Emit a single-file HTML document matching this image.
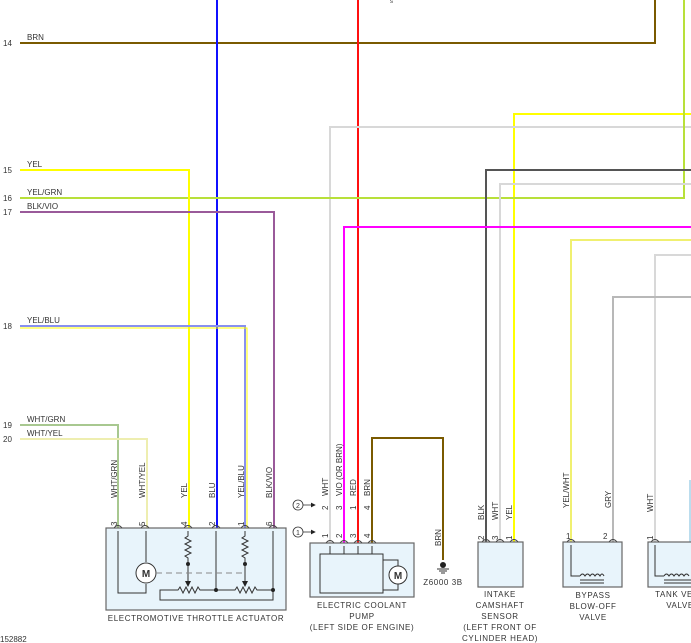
<!DOCTYPE html>
<html><head><meta charset="utf-8"><style>
html,body{margin:0;padding:0;background:#fff}
svg{display:block}
text{font-family:"Liberation Sans",sans-serif;fill:#333}
</style></head><body>
<svg width="691" height="643" viewBox="0 0 691 643" xmlns="http://www.w3.org/2000/svg">
<defs>
<marker id="ah" markerWidth="6" markerHeight="6" refX="5" refY="3" orient="auto"><path d="M0,0 L6,3 L0,6z" fill="#222"/></marker>
</defs>
<g fill="none" stroke-width="2">
<polyline points="20,43 655,43 655,0" stroke="#7a5a00"/>
<line x1="217" y1="0" x2="217" y2="528" stroke="#1010ff"/>
<line x1="358" y1="0" x2="358" y2="543" stroke="#ff1010"/>
<polyline points="691,114 514,114 514,543" stroke="#ffff00"/>
<polyline points="691,127 330,127 330,543" stroke="#d8d8d8"/>
<polyline points="684,0 684,198 20,198" stroke="#b8e03a"/>
<polyline points="20,170 189,170 189,528" stroke="#ffff00"/>
<polyline points="20,212 274,212 274,528" stroke="#9a5a9a"/>
<polyline points="691,170 486,170 486,543" stroke="#555"/>
<polyline points="691,184 500,184 500,543" stroke="#d8d8d8"/>
<polyline points="691,227 344,227 344,543" stroke="#ff00ff"/>
<polyline points="691,240 571,240 571,543" stroke="#f0f070"/>
<polyline points="691,255 655,255 655,543" stroke="#d8d8d8"/>
<polyline points="691,297 613,297 613,543" stroke="#b8b8b8"/>
<polyline points="20,326 245,326 245,528" stroke="#8890f0"/>
<polyline points="20,425 118,425 118,528" stroke="#a8c890"/>
<polyline points="20,439 147,439 147,528" stroke="#eeeeb0"/>
<polyline points="372,543 372,438 443,438 443,560" stroke="#7a5a00"/>
<line x1="690" y1="480" x2="690" y2="543" stroke="#bde"/>
</g>
<polyline points="20,328 247,328 247,528" fill="none" stroke="#ffff00" stroke-width="1"/>
<g font-size="8">
<text x="3" y="46">14</text><text x="27" y="40">BRN</text>
<text x="3" y="173">15</text><text x="27" y="167">YEL</text>
<text x="3" y="201">16</text><text x="27" y="195">YEL/GRN</text>
<text x="3" y="215">17</text><text x="27" y="209">BLK/VIO</text>
<text x="3" y="329">18</text><text x="27" y="323">YEL/BLU</text>
<text x="3" y="428">19</text><text x="27" y="422">WHT/GRN</text>
<text x="3" y="442">20</text><text x="27" y="436">WHT/YEL</text>
<text x="0" y="642" fill="#666">152882</text>
</g>
<g font-size="8">
<text transform="translate(117,498) rotate(-90)">WHT/GRN</text>
<text transform="translate(145,498) rotate(-90)">WHT/YEL</text>
<text transform="translate(187,498) rotate(-90)">YEL</text>
<text transform="translate(215,498) rotate(-90)">BLU</text>
<text transform="translate(244,498) rotate(-90)">YEL/BLU</text>
<text transform="translate(272,498) rotate(-90)">BLK/VIO</text>
<text transform="translate(328,496) rotate(-90)">WHT</text>
<text transform="translate(342,496) rotate(-90)">VIO  (OR BRN)</text>
<text transform="translate(356,496) rotate(-90)">RED</text>
<text transform="translate(370,496) rotate(-90)">BRN</text>
<text transform="translate(441,546) rotate(-90)">BRN</text>
<text transform="translate(484,520) rotate(-90)">BLK</text>
<text transform="translate(498,520) rotate(-90)">WHT</text>
<text transform="translate(512,520) rotate(-90)">YEL</text>
<text transform="translate(569,508) rotate(-90)">YEL/WHT</text>
<text transform="translate(611,508) rotate(-90)">GRY</text>
<text transform="translate(653,512) rotate(-90)">WHT</text>
<text transform="translate(117,526) rotate(-90)">3</text>
<text transform="translate(145,526) rotate(-90)">5</text>
<text transform="translate(187,526) rotate(-90)">4</text>
<text transform="translate(215,526) rotate(-90)">2</text>
<text transform="translate(244,526) rotate(-90)">1</text>
<text transform="translate(272,526) rotate(-90)">6</text>
<text transform="translate(328,510) rotate(-90)">2</text>
<text transform="translate(342,510) rotate(-90)">3</text>
<text transform="translate(356,510) rotate(-90)">1</text>
<text transform="translate(370,510) rotate(-90)">4</text>
<text transform="translate(328,538) rotate(-90)">1</text>
<text transform="translate(342,538) rotate(-90)">2</text>
<text transform="translate(356,538) rotate(-90)">3</text>
<text transform="translate(370,538) rotate(-90)">4</text>
<text transform="translate(484,540) rotate(-90)">2</text>
<text transform="translate(498,540) rotate(-90)">3</text>
<text transform="translate(512,540) rotate(-90)">1</text>
<text transform="translate(653,540) rotate(-90)">1</text>
</g>
<g font-size="8"><text x="566" y="539">1</text><text x="603" y="539">2</text></g>
<g fill="none" stroke="#333" stroke-width="0.8">
<circle cx="298" cy="505" r="5"/><circle cx="298" cy="532" r="5"/>
<line x1="303" y1="505" x2="315" y2="505" marker-end="url(#ah)"/>
<line x1="303" y1="532" x2="315" y2="532" marker-end="url(#ah)"/>
</g>
<g font-size="7" text-anchor="middle"><text x="298" y="508">2</text><text x="298" y="535">1</text></g>
<g fill="#e8f4fb" stroke="#666" stroke-width="1.2">
<rect x="106" y="528" width="180" height="82"/>
<rect x="310" y="543" width="104" height="54"/>
<rect x="478" y="542" width="45" height="45"/>
<rect x="563" y="542" width="59" height="45"/>
<rect x="648" y="542" width="50" height="45"/>
</g>
<g fill="none" stroke="#444" stroke-width="1">
<path d="M114,528 q4,-5 8,0 M141,528 q4,-5 8,0 M184,528 q4,-5 8,0 M212,528 q4,-5 8,0 M241,528 q4,-5 8,0 M269,528 q4,-5 8,0"/>
<path d="M326,543 q4,-5 8,0 M340,543 q4,-5 8,0 M354,543 q4,-5 8,0 M368,543 q4,-5 8,0"/>
<path d="M482,542 q4,-5 8,0 M496,542 q4,-5 8,0 M510,542 q4,-5 8,0 M567,542 q4,-5 8,0 M609,542 q4,-5 8,0 M651,542 q4,-5 8,0"/>
</g>
<g fill="none" stroke="#333" stroke-width="1">
<polyline points="118,531 118,593 146,593 146,584"/>
<line x1="146" y1="531" x2="146" y2="562"/>
<circle cx="146" cy="573" r="10" fill="#fff"/>
<polyline points="188,531 188,536 185,538 191,541 185,544 191,547 185,550 191,553 185,556 188,558 188,586" marker-end="url(#ah)"/>
<polyline points="245,531 245,536 242,538 248,541 242,544 248,547 242,550 248,553 242,556 245,558 245,586" marker-end="url(#ah)"/>
<line x1="216" y1="531" x2="216" y2="590"/>
<polyline points="273,531 273,600 160,600 160,590 178,590 180,587 183,593 186,587 189,593 192,587 195,593 198,587 200,590 235,590 237,587 240,593 243,587 246,593 249,587 252,593 255,587 257,590 273,590"/>
<line x1="156" y1="573" x2="245" y2="573" stroke-dasharray="6,4" stroke="#888"/>
<rect x="320" y="554" width="63" height="39" fill="#e8f4fb"/>
<line x1="330" y1="546" x2="330" y2="554"/><line x1="344" y1="546" x2="344" y2="554"/><line x1="358" y1="546" x2="358" y2="554"/><line x1="372" y1="546" x2="372" y2="554"/>
<polyline points="383,560 398,560 398,566"/><polyline points="383,590 398,590 398,584"/>
<circle cx="398" cy="575" r="9" fill="#fff"/>
<polyline points="571,545 571,576 580,576 M613,545 613,576 604,576"/>
<path d="M580,576 q2.5,-4 5,0 q2.5,-4 5,0 q2.5,-4 5,0 q2.5,-4 5,0 q2,-4 4,0"/>
<line x1="580" y1="580" x2="604" y2="580"/><line x1="580" y1="583" x2="604" y2="583"/>
<polyline points="655,545 655,576 664,576"/>
<path d="M664,576 q2.5,-4 5,0 q2.5,-4 5,0 q2.5,-4 5,0 q2.5,-4 5,0 q2.5,-4 5,0"/>
<line x1="664" y1="580" x2="691" y2="580"/><line x1="664" y1="583" x2="691" y2="583"/>
</g>
<g fill="#222"><circle cx="188" cy="564" r="2"/><circle cx="245" cy="564" r="2"/><circle cx="216" cy="590" r="2"/><circle cx="273" cy="590" r="2"/>
<circle cx="443" cy="565" r="3"/></g>
<g stroke="#333" stroke-width="1"><line x1="437" y1="569" x2="449" y2="569"/><line x1="439" y1="571" x2="447" y2="571"/><line x1="441" y1="573" x2="445" y2="573"/></g>
<g font-size="10" text-anchor="middle" font-weight="bold">
<text x="146" y="577" fill="#b06000">M</text>
<text x="398" y="579" fill="#0070a0">M</text>
</g>
<g font-size="8" text-anchor="middle" letter-spacing="0.6">
<text x="196" y="621">ELECTROMOTIVE THROTTLE ACTUATOR</text>
<text x="362" y="608">ELECTRIC COOLANT</text>
<text x="362" y="619">PUMP</text>
<text x="362" y="630">(LEFT SIDE OF ENGINE)</text>
<text x="443" y="585">Z6000 3B</text>
<text x="500" y="597">INTAKE</text>
<text x="500" y="608">CAMSHAFT</text>
<text x="500" y="619">SENSOR</text>
<text x="500" y="630">(LEFT FRONT OF</text>
<text x="500" y="641">CYLINDER HEAD)</text>
<text x="593" y="598">BYPASS</text>
<text x="593" y="609">BLOW-OFF</text>
<text x="593" y="620">VALVE</text>
<text x="680" y="597">TANK VENT</text>
<text x="680" y="608">VALVE</text>
</g>
<text x="390" y="3" font-size="6">s</text>
</svg>
</body></html>
